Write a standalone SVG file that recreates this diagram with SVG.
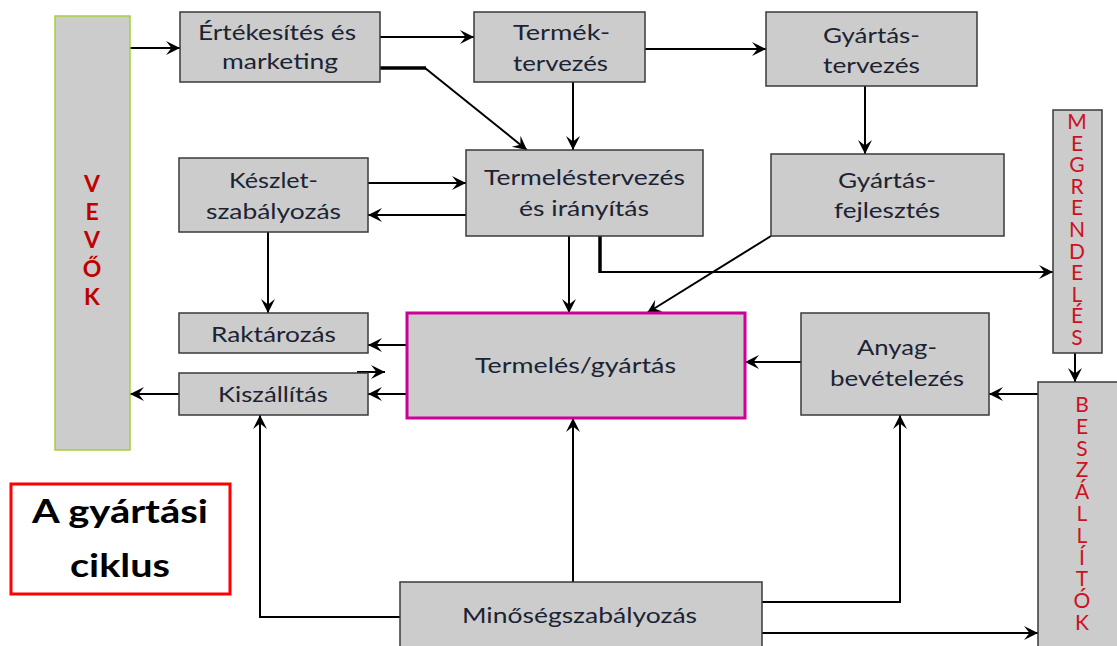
<svg xmlns="http://www.w3.org/2000/svg" width="1117" height="646" viewBox="0 0 1117 646">
<style>
.box{fill:#cccccc;stroke:#3a3a3a;stroke-width:1.5}
.t{font-family:Lato,"Liberation Sans",sans-serif;font-size:21px;fill:#1c2333}
.v{font-family:Lato,"Liberation Sans",sans-serif;font-size:21px;fill:#cc1122;text-anchor:middle}
.c{stroke:#000;stroke-width:2;fill:none}
.k{stroke:#000;stroke-width:3.5;fill:none}
.a{marker-end:url(#ah)}
</style>
<defs>
<marker id="ah" markerUnits="userSpaceOnUse" markerWidth="16" markerHeight="16" refX="14" refY="7" orient="auto" viewBox="0 0 16 16">
<path d="M0,0 L14,7 L0,14 L5.5,7 z" fill="#000"/>
</marker>
</defs>
<rect width="1117" height="646" fill="#fff"/>

<g id="connectors">
<line class="c a" x1="130" y1="48" x2="180" y2="48"/>
<line class="c a" x1="380" y1="37" x2="474" y2="37"/>
<line class="k" x1="380" y1="68" x2="426" y2="68"/>
<line class="c a" x1="425" y1="68" x2="527" y2="150"/>
<line class="c a" x1="645" y1="49" x2="766" y2="49"/>
<line class="c a" x1="573" y1="82" x2="573" y2="150"/>
<line class="c a" x1="865" y1="86" x2="865" y2="154"/>
<line class="c a" x1="368" y1="183" x2="466" y2="183"/>
<line class="c a" x1="466" y1="215" x2="368" y2="215"/>
<line class="c a" x1="268" y1="232" x2="268" y2="313"/>
<line class="c a" x1="569" y1="236" x2="569" y2="313"/>
<line class="k" x1="600" y1="236" x2="600" y2="273"/>
<line class="c a" x1="599" y1="272" x2="1053" y2="272"/>
<line class="c a" x1="771" y1="236" x2="647" y2="313"/>
<line class="c a" x1="407" y1="345" x2="368" y2="345"/>
<line class="c a" x1="407" y1="394" x2="368" y2="394"/>
<line class="c a" x1="357" y1="372" x2="385" y2="372"/>
<line class="c a" x1="179" y1="394" x2="130" y2="394"/>
<line class="c a" x1="801" y1="362" x2="745" y2="362"/>
<line class="c a" x1="1038" y1="394" x2="989" y2="394"/>
<line class="c a" x1="1075" y1="353" x2="1075" y2="382"/>
<polyline class="c a" points="400,617 260,617 260,415"/>
<polyline class="c a" points="762,602 900,602 900,415"/>
<line class="c a" x1="573" y1="582" x2="573" y2="418"/>
<line class="c a" x1="762" y1="633" x2="1038" y2="633"/>
</g>

<g id="vevok">
<rect x="55" y="16" width="75" height="434" fill="#cccccc" stroke="#a6cf3a" stroke-width="1.5"/>
<text class="v" style="font-weight:bold;font-size:23px;fill:#c00000"><tspan x="92" y="192">V</tspan><tspan x="92" y="220">E</tspan><tspan x="92" y="248">V</tspan><tspan x="92" y="277">Ő</tspan><tspan x="92" y="305">K</tspan></text>
</g>

<g id="ertekesites">
<rect class="box" x="180" y="12" width="200" height="70"/>
<text class="t" x="198" y="40" textLength="158" lengthAdjust="spacingAndGlyphs">Értékesítés és</text>
<text class="t" x="222" y="69" textLength="116" lengthAdjust="spacingAndGlyphs">marketing</text>
</g>

<g id="termektervezes">
<rect class="box" x="474" y="12" width="171" height="70"/>
<text class="t" x="513" y="40" textLength="97" lengthAdjust="spacingAndGlyphs">Termék-</text>
<text class="t" x="513" y="71" textLength="95" lengthAdjust="spacingAndGlyphs">tervezés</text>
</g>

<g id="gyartastervezes">
<rect class="box" x="766" y="12" width="211" height="74"/>
<text class="t" x="823" y="43" textLength="97" lengthAdjust="spacingAndGlyphs">Gyártás-</text>
<text class="t" x="823" y="73" textLength="97" lengthAdjust="spacingAndGlyphs">tervezés</text>
</g>

<g id="keszlet">
<rect class="box" x="179" y="158" width="189" height="74"/>
<text class="t" x="229" y="188" textLength="89" lengthAdjust="spacingAndGlyphs">Készlet-</text>
<text class="t" x="206" y="219" textLength="135" lengthAdjust="spacingAndGlyphs">szabályozás</text>
</g>

<g id="termelestervezes">
<rect class="box" x="466" y="150" width="237" height="86"/>
<text class="t" x="484" y="185" textLength="201" lengthAdjust="spacingAndGlyphs">Termeléstervezés</text>
<text class="t" x="519" y="216" textLength="130" lengthAdjust="spacingAndGlyphs">és irányítás</text>
</g>

<g id="gyartasfejlesztes">
<rect class="box" x="771" y="154" width="233" height="82"/>
<text class="t" x="838" y="188" textLength="98" lengthAdjust="spacingAndGlyphs">Gyártás-</text>
<text class="t" x="834" y="218" textLength="106" lengthAdjust="spacingAndGlyphs">fejlesztés</text>
</g>

<g id="megrendeles">
<rect class="box" x="1053" y="110" width="49" height="243"/>
<text class="v"><tspan x="1077" y="129">M</tspan><tspan x="1077" y="150.6">E</tspan><tspan x="1077" y="172.2">G</tspan><tspan x="1077" y="193.8">R</tspan><tspan x="1077" y="215.4">E</tspan><tspan x="1077" y="237">N</tspan><tspan x="1077" y="258.6">D</tspan><tspan x="1077" y="280.2">E</tspan><tspan x="1077" y="301.8">L</tspan><tspan x="1077" y="323.4">É</tspan><tspan x="1077" y="345">S</tspan></text>
</g>

<g id="raktarozas">
<rect class="box" x="179" y="313" width="189" height="40"/>
<text class="t" x="211" y="342" textLength="125" lengthAdjust="spacingAndGlyphs">Raktározás</text>
</g>

<g id="kiszallitas">
<rect class="box" x="179" y="373" width="189" height="42"/>
<text class="t" x="218" y="402" textLength="110" lengthAdjust="spacingAndGlyphs">Kiszállítás</text>
</g>

<g id="termeles">
<rect x="407" y="313" width="338" height="105" fill="#cccccc" stroke="#cc0099" stroke-width="3"/>
<text class="t" x="475" y="373" textLength="201" lengthAdjust="spacingAndGlyphs">Termelés/gyártás</text>
</g>

<g id="anyag">
<rect class="box" x="801" y="313" width="188" height="102"/>
<text class="t" x="857" y="355" textLength="80" lengthAdjust="spacingAndGlyphs">Anyag-</text>
<text class="t" x="830" y="386" textLength="134" lengthAdjust="spacingAndGlyphs">bevételezés</text>
</g>

<g id="beszallitok">
<rect class="box" x="1038" y="382" width="90" height="280"/>
<text class="v"><tspan x="1082" y="412">B</tspan><tspan x="1082" y="433.8">E</tspan><tspan x="1082" y="455.6">S</tspan><tspan x="1082" y="477.4">Z</tspan><tspan x="1082" y="499.2">Á</tspan><tspan x="1082" y="521">L</tspan><tspan x="1082" y="542.8">L</tspan><tspan x="1082" y="564.6">Í</tspan><tspan x="1082" y="586.4">T</tspan><tspan x="1082" y="608.2">Ó</tspan><tspan x="1082" y="630">K</tspan></text>
</g>

<g id="minoseg">
<rect class="box" x="400" y="582" width="362" height="80"/>
<text class="t" x="462" y="623" textLength="235" lengthAdjust="spacingAndGlyphs">Minőségszabályozás</text>
</g>

<g id="cim">
<rect x="11" y="484" width="219" height="110" fill="#fff" stroke="#ff0000" stroke-width="3"/>
<text class="t" x="32" y="523" textLength="176" lengthAdjust="spacingAndGlyphs" style="font-weight:bold;font-size:32px;fill:#000">A gyártási</text>
<text class="t" x="70" y="577" textLength="100" lengthAdjust="spacingAndGlyphs" style="font-weight:bold;font-size:32px;fill:#000">ciklus</text>
</g>
</svg>
